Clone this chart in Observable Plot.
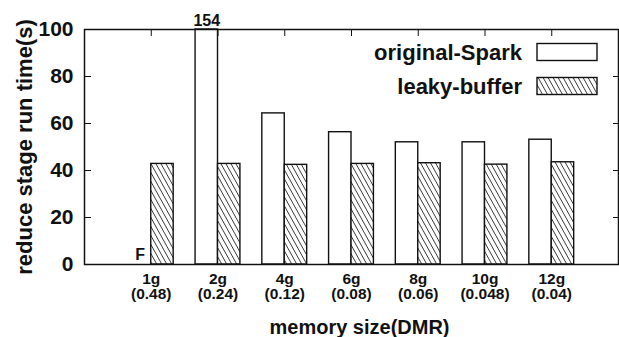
<!DOCTYPE html>
<html>
<head>
<meta charset="utf-8">
<script src="https://cdn.jsdelivr.net/npm/d3@7"></script>
<script src="https://cdn.jsdelivr.net/npm/@observablehq/plot@0.6"></script>
<style>
  html, body { margin: 0; padding: 0; background: #fff; }
  svg { font-family: "Liberation Sans", Arial, Helvetica, sans-serif; }
  g[aria-label="x-axis tick label"] { font-size: 15.5px; font-weight: bold; }
  g[aria-label="y-axis tick label"] { font-size: 21px; font-weight: bold; }
</style>
</head>
<body>
<div id="chart"></div>
<script>
const categories = ["1g", "2g", "4g", "6g", "8g", "10g", "12g"];
const dmrLabels = ["(0.48)", "(0.24)", "(0.12)", "(0.08)", "(0.06)", "(0.048)", "(0.04)"];
const originalSpark = [null, 154, 64.3, 56.3, 52.0, 52.0, 53.1];
const leakyBuffer = [42.8, 42.8, 42.4, 42.8, 43.1, 42.5, 43.5];
const yTicks = [0, 20, 40, 60, 80, 100];
const seriesNames = ["original-Spark", "leaky-buffer"];

const yMax = 100;
const barW = 0.336; // fraction of a category slot
const pos = categories.map((c, i) => i + 1);

const orig = categories.map((c, i) => ({i, pos: pos[i], cat: c, value: originalSpark[i]}));
const leaky = categories.map((c, i) => ({i, pos: pos[i], cat: c, value: leakyBuffer[i]}));
const origOk = orig.filter(d => d.value != null);
const origFail = orig.filter(d => d.value == null);
const origOver = orig.filter(d => d.value != null && d.value > yMax);

const font = "Liberation Sans, Arial, Helvetica, sans-serif";

const plot = Plot.plot({
  width: 619,
  height: 337,
  marginLeft: 84,
  marginRight: 1,
  marginTop: 29,
  marginBottom: 73,
  style: {fontFamily: font, background: "#fff", overflow: "visible"},
  x: {domain: [0, categories.length + 1], axis: null},
  y: {domain: [0, yMax], axis: null},
  marks: [
    Plot.rect(origOk, {
      x1: d => d.pos - barW, x2: d => d.pos,
      y1: 0, y2: d => Math.min(d.value, yMax),
      fill: "#fff", stroke: "#111", strokeWidth: 1.4
    }),
    Plot.rect(leaky, {
      x1: d => d.pos, x2: d => d.pos + barW,
      y1: 0, y2: d => d.value,
      fill: "url(#hatch)", stroke: "#111", strokeWidth: 1.4
    }),
    Plot.frame({stroke: "#111", strokeWidth: 1.5}),
    // y axis labels (left)
    Plot.axisY({anchor: "left", ticks: yTicks, tickSize: 0, tickPadding: 11,
      fontSize: 21, fontWeight: "bold", fill: "#111", label: null}),
    // inward tick marks
    Plot.axisY({anchor: "left", ticks: yTicks, tickSize: -7, tickFormat: () => "", label: null, stroke: "#111"}),
    Plot.axisY({anchor: "right", ticks: yTicks, tickSize: -6, tickFormat: () => "", label: null, stroke: "#111"}),
    Plot.axisX({anchor: "top", ticks: pos, tickSize: -6, tickFormat: () => "", label: null, stroke: "#111"}),
    // x axis labels (two lines)
    Plot.axisX({anchor: "bottom", ticks: pos, tickSize: 0, tickPadding: 8,
      tickFormat: p => categories[p - 1] + "\n" + dmrLabels[p - 1],
      fontSize: 15.5, fontWeight: "bold", lineHeight: 1, fill: "#111", label: null}),
    // annotations
    Plot.text(origOver, {x: d => d.pos - barW / 2, y: () => yMax, text: d => String(d.value),
      lineAnchor: "bottom", dy: -4, fontSize: 16, fontWeight: "bold", fill: "#111"}),
    Plot.text(origFail, {x: d => d.pos - barW / 2, y: () => 0, text: () => "F",
      lineAnchor: "bottom", dy: -5, fontSize: 16, fontWeight: "bold", fill: "#111"}),
    // axis titles
    Plot.text(["reduce stage run time(s)"], {frameAnchor: "left", textAnchor: "middle", rotate: -90, dx: -53,
      lineAnchor: "bottom", fontSize: 22, fontWeight: "bold", fill: "#111"}),
    Plot.text(["memory size(DMR)"], {frameAnchor: "bottom", dx: 8, dy: 69,
      lineAnchor: "bottom", fontSize: 20, fontWeight: "bold", fill: "#111"})
  ]
});

const svg = d3.select(plot);
const defs = svg.insert("defs", ":first-child");
const pat = defs.append("pattern")
  .attr("id", "hatch")
  .attr("patternUnits", "userSpaceOnUse")
  .attr("width", 5).attr("height", 9);
pat.append("rect").attr("width", 5).attr("height", 9).attr("fill", "#fff");
pat.append("path")
  .attr("d", "M0,0L5,9M-5,0L0,9M5,0L10,9")
  .attr("stroke", "#222").attr("stroke-width", 0.9).attr("fill", "none");

// legend
const leg = svg.append("g").attr("font-family", font).attr("font-weight", "bold").attr("font-size", 22).attr("fill", "#111");
const legendRows = [
  {name: seriesNames[0], fill: "#fff", cy: 52},
  {name: seriesNames[1], fill: "url(#hatch)", cy: 86}
];
legendRows.forEach(r => {
  leg.append("text").attr("x", 522).attr("y", r.cy).attr("dy", "0.35em").attr("text-anchor", "end").text(r.name);
  leg.append("rect").attr("x", 537).attr("y", r.cy - 8.5).attr("width", 60).attr("height", 17)
    .attr("fill", r.fill).attr("stroke", "#111").attr("stroke-width", 1.4);
});

document.getElementById("chart").appendChild(plot);
</script>
</body>
</html>
